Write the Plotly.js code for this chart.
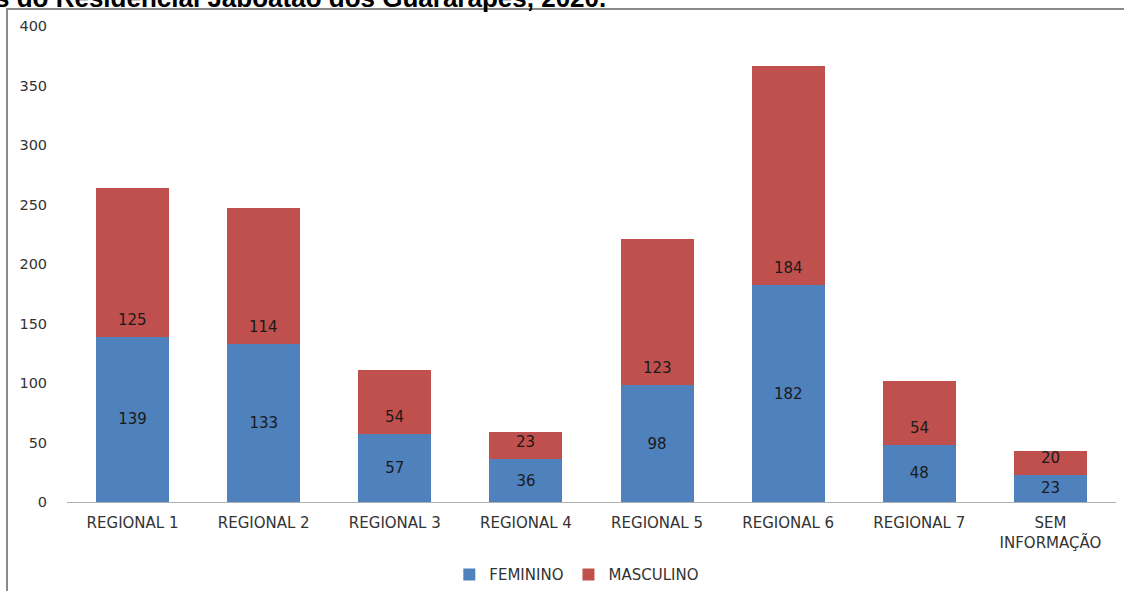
<!DOCTYPE html>
<html>
<head>
<meta charset="utf-8">
<script src="https://cdn.plot.ly/plotly-3.0.1.min.js"></script>
<style>
  html, body { margin: 0; padding: 0; background: #fff; overflow: hidden; }
  #chart { width: 1124px; height: 591px; }
</style>
</head>
<body>
<div id="chart"></div>
<script>
const categories = ["REGIONAL 1", "REGIONAL 2", "REGIONAL 3", "REGIONAL 4", "REGIONAL 5", "REGIONAL 6", "REGIONAL 7", "SEM<br>INFORMAÇÃO"];
const feminino = [139, 133, 57, 36, 98, 182, 48, 23];
const masculino = [125, 114, 54, 23, 123, 184, 54, 20];
const yTicks = [0, 50, 100, 150, 200, 250, 300, 350, 400];
const titleText = "s do Residencial Jaboatão dos Guararapes, 2020.";

const baseFont = "DejaVu Sans, Verdana, sans-serif";
const labelFont = { family: baseFont, size: 15, color: "#1a1a1a" };

const traces = [
  {
    type: "bar", name: "FEMININO", x: categories, y: feminino,
    marker: { color: "#4F81BD" },
    text: feminino.map(String), textposition: "inside", insidetextanchor: "middle",
    constraintext: "none", textfont: labelFont, hoverinfo: "x+y+name"
  },
  {
    type: "bar", name: "MASCULINO", x: categories, y: masculino,
    marker: { color: "#C0504D" }, hoverinfo: "x+y+name"
  }
];

const annotations = categories.map((c, i) => ({
  x: c, y: feminino[i], xref: "x", yref: "y",
  text: String(masculino[i]), showarrow: false,
  yanchor: "middle", yshift: 17, font: labelFont
}));
annotations.push({
  xref: "paper", yref: "paper", x: (608 - 67) / 1049, y: (502 - 15) / 476,
  xanchor: "right", yanchor: "bottom", showarrow: false,
  text: "<b>" + titleText + "</b>",
  font: { family: "Liberation Sans, Arial, sans-serif", size: 26, color: "#000" }
});

const layout = {
  width: 1124, height: 591,
  margin: { l: 67, r: 8, t: 26, b: 89, autoexpand: false },
  paper_bgcolor: "#fff", plot_bgcolor: "#fff",
  barmode: "stack", bargap: 0.443,
  showlegend: true,
  legend: {
    orientation: "h", traceorder: "normal",
    x: 0.486, xanchor: "center", y: -0.153, yanchor: "middle",
    font: { family: baseFont, size: 15, color: "#333" },
    itemwidth: 30, tracegroupgap: 0
  },
  xaxis: {
    type: "category", showgrid: false, zeroline: false, automargin: false,
    showline: true, linecolor: "#b0b0b0", linewidth: 1,
    ticks: "outside", ticklen: 7, tickcolor: "rgba(0,0,0,0)",
    tickfont: { family: baseFont, size: 15, color: "#333" },
    fixedrange: true
  },
  yaxis: {
    range: [0, 400], tickvals: yTicks, ticktext: yTicks.map(String),
    showgrid: false, zeroline: false, showline: false, automargin: false,
    ticks: "outside", ticklen: 16, tickcolor: "rgba(0,0,0,0)",
    tickfont: { family: baseFont, size: 14.5, color: "#333" },
    fixedrange: true
  },
  shapes: [{
    type: "rect", xref: "paper", yref: "paper",
    x0: (7 - 67) / 1049, x1: 1.2, y0: -0.5, y1: (502 - 9) / 476,
    line: { color: "#8a8a8a", width: 2 }, fillcolor: "rgba(0,0,0,0)", layer: "above"
  }],
  annotations: annotations
};

Plotly.newPlot("chart", traces, layout, { displayModeBar: false, staticPlot: true });
</script>
</body>
</html>
